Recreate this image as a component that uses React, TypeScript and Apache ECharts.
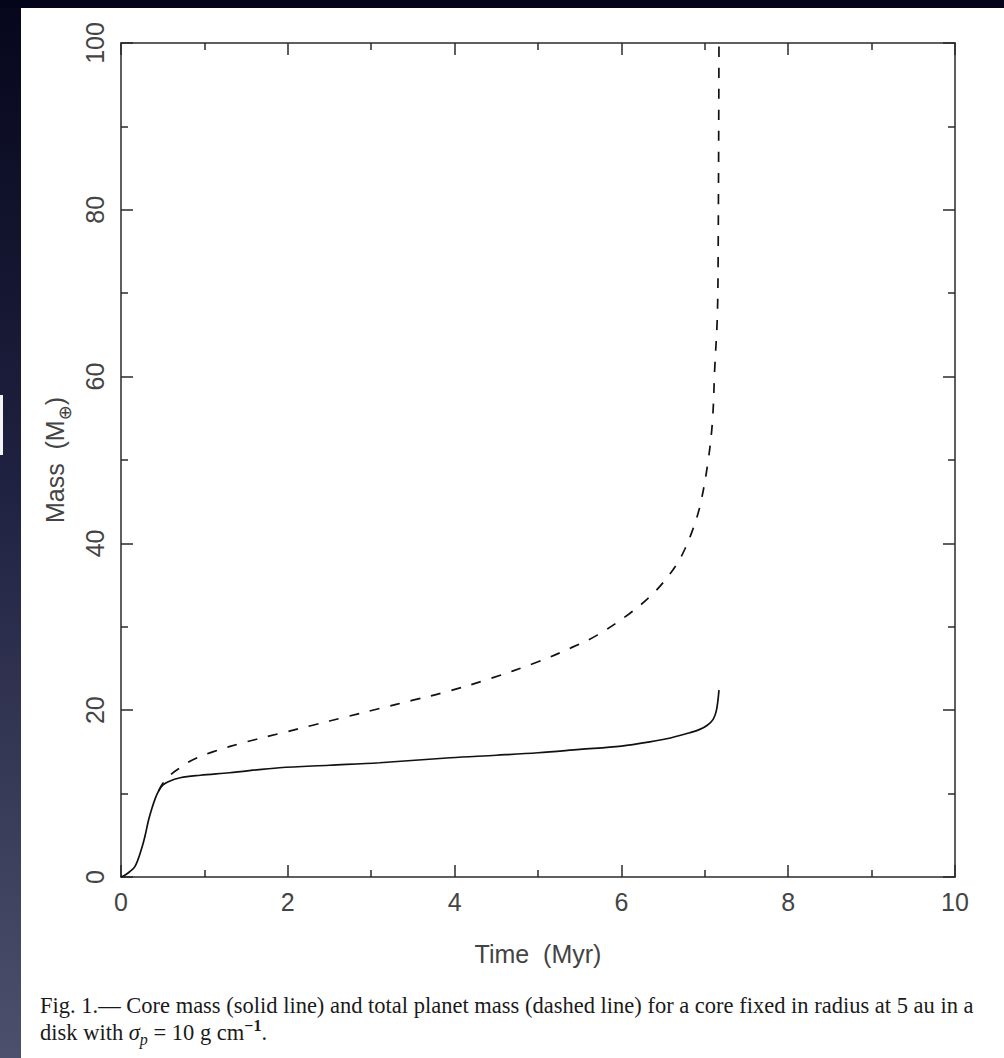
import React, { useEffect, useRef } from "react";
import * as echarts from "echarts";

// Core mass (solid line): time in Myr, mass in Earth masses
const coreTime = [0, 0.05, 0.1, 0.17, 0.25, 0.29, 0.33, 0.37, 0.41, 0.45, 0.5, 0.56, 0.71, 0.95, 1.3, 1.9, 2.5, 3.1, 3.95, 4.5, 5.0, 5.5, 6.0, 6.34, 6.6, 6.82, 6.94, 7.03, 7.1, 7.14, 7.17];
const coreMass = [0, 0.24, 0.6, 1.3, 3.5, 5.0, 6.8, 8.2, 9.4, 10.3, 11.0, 11.4, 11.9, 12.2, 12.5, 13.1, 13.4, 13.7, 14.3, 14.6, 14.9, 15.3, 15.7, 16.2, 16.7, 17.3, 17.7, 18.2, 18.9, 20.0, 22.4];

// Total planet mass (dashed line)
const totalTime = [0.45, 0.5, 0.6, 0.71, 0.85, 1.1, 1.5, 1.9, 2.3, 2.7, 3.1, 3.5, 3.9, 4.4, 5.0, 5.4, 5.71, 6.1, 6.34, 6.5, 6.67, 6.76, 6.85, 6.94, 7.03, 7.09, 7.12, 7.15, 7.16, 7.17];
const totalMass = [10.3, 11.2, 12.3, 13.1, 14.0, 15.0, 16.2, 17.2, 18.2, 19.2, 20.2, 21.2, 22.2, 23.7, 25.8, 27.5, 29.0, 31.6, 33.6, 35.3, 37.6, 39.3, 41.5, 44.4, 49.2, 54.4, 61.2, 67.1, 74.3, 100];

// Axis ticks
const xTicks = [0, 2, 4, 6, 8, 10];
const yTicks = [0, 20, 40, 60, 80, 100];

const captionLine1 =
  "Fig. 1.— Core mass (solid line) and total planet mass (dashed line) for a core fixed in radius at 5 au in a";

export default function App() {
  const ref = useRef<HTMLDivElement>(null);

  useEffect(() => {
    if (!ref.current) return;
    const chart = echarts.init(ref.current, null, { renderer: "svg" });

    const axisColor = "#2a2a2a";
    const labelFont = "Liberation Sans, Arial, sans-serif";
    const labelSize = 25;
    const tickCommon = {
      axisLine: { show: true, onZero: false, lineStyle: { color: axisColor, width: 1.5 } },
      axisTick: { show: true, inside: true, length: 12, lineStyle: { color: axisColor, width: 1.5 } },
      minorTick: { show: true, splitNumber: 2, length: 7, lineStyle: { color: axisColor, width: 1.5 } },
      splitLine: { show: false },
      minorSplitLine: { show: false },
    };

    const xStep = xTicks[1] - xTicks[0];
    const yStep = yTicks[1] - yTicks[0];

    const core = coreTime.map((t, i) => [t, coreMass[i]]);
    const total = totalTime.map((t, i) => [t, totalMass[i]]);

    const captionFont = "22.5px 'Liberation Serif', 'Times New Roman', serif";

    chart.setOption({
      animation: false,
      backgroundColor: "#ffffff",
      grid: { left: 121, top: 43, width: 834, height: 834, containLabel: false },
      xAxis: [
        {
          type: "value",
          position: "bottom",
          min: xTicks[0],
          max: xTicks[xTicks.length - 1],
          interval: xStep,
          ...tickCommon,
          axisLabel: {
            show: true,
            margin: 12,
            fontSize: labelSize,
            color: "#444",
            fontFamily: labelFont,
          },
          name: "Time  (Myr)",
          nameLocation: "middle",
          nameGap: 64,
          nameTextStyle: { fontSize: labelSize, color: "#444", fontFamily: labelFont },
        },
        {
          type: "value",
          position: "top",
          min: xTicks[0],
          max: xTicks[xTicks.length - 1],
          interval: xStep,
          ...tickCommon,
          axisLabel: { show: false },
        },
      ],
      yAxis: [
        {
          type: "value",
          position: "left",
          min: yTicks[0],
          max: yTicks[yTicks.length - 1],
          interval: yStep,
          ...tickCommon,
          axisLabel: {
            show: true,
            rotate: 90,
            margin: 14,
            fontSize: labelSize,
            color: "#444",
            fontFamily: labelFont,
          },
          name: "Mass  (M{sub|⊕})",
          nameLocation: "middle",
          nameRotate: 90,
          nameGap: 48,
          nameTextStyle: {
            fontSize: labelSize,
            color: "#444",
            fontFamily: labelFont,
            lineHeight: 36,
            rich: {
              sub: {
                fontSize: 18,
                color: "#444",
                fontFamily: "DejaVu Sans, sans-serif",
                lineHeight: 18,
                verticalAlign: "bottom",
              },
            },
          },
        },
        {
          type: "value",
          position: "right",
          min: yTicks[0],
          max: yTicks[yTicks.length - 1],
          interval: yStep,
          ...tickCommon,
          axisLabel: { show: false },
        },
      ],
      series: [
        {
          name: "Total planet mass",
          type: "line",
          xAxisIndex: 0,
          yAxisIndex: 0,
          data: total,
          showSymbol: false,
          smooth: 0.35,
          z: 2,
          lineStyle: { color: "#111", width: 1.7, type: [10, 11] },
        },
        {
          name: "Core mass",
          type: "line",
          xAxisIndex: 0,
          yAxisIndex: 0,
          data: core,
          showSymbol: false,
          smooth: 0.35,
          z: 3,
          lineStyle: { color: "#111", width: 1.7, type: "solid" },
        },
      ],
      graphic: [
        {
          type: "rect",
          left: 0,
          top: 0,
          shape: { width: 21, height: 1058 },
          style: {
            fill: new echarts.graphic.LinearGradient(0, 0, 0, 1, [
              { offset: 0, color: "#06071c" },
              { offset: 0.45, color: "#1f2140" },
              { offset: 1, color: "#4d506c" },
            ]),
          },
          silent: true,
        },
        {
          type: "rect",
          left: 0,
          top: 0,
          shape: { width: 1004, height: 8 },
          style: { fill: "#04051a" },
          silent: true,
        },
        {
          type: "rect",
          left: 0,
          top: 395,
          shape: { width: 3, height: 60 },
          style: { fill: "#f4f4f4" },
          silent: true,
        },
        {
          type: "text",
          x: 40,
          y: 1005,
          style: {
            text: captionLine1,
            font: captionFont,
            fill: "#1a1a1a",
            textVerticalAlign: "middle",
          },
          silent: true,
        },
        {
          type: "text",
          x: 40,
          y: 1032,
          style: {
            text: "disk with {it|σ}{sub|p} = 10 g cm{sup|−1}.",
            font: captionFont,
            fill: "#1a1a1a",
            lineHeight: 30,
            textVerticalAlign: "middle",
            rich: {
              it: { fontStyle: "italic", fontSize: 22.5, fontFamily: "Liberation Serif", lineHeight: 30 },
              sub: { fontStyle: "italic", fontSize: 16, fontFamily: "Liberation Serif", lineHeight: 20, verticalAlign: "bottom" },
              sup: { fontSize: 16, fontWeight: "bold", fontFamily: "Liberation Serif", lineHeight: 20, verticalAlign: "top" },
            },
          },
          silent: true,
        },
      ],
    });

    return () => chart.dispose();
  }, []);

  return (
    <div
      ref={ref}
      style={{ position: "fixed", left: 0, top: 0, width: 1004, height: 1058, background: "#fff" }}
    />
  );
}
